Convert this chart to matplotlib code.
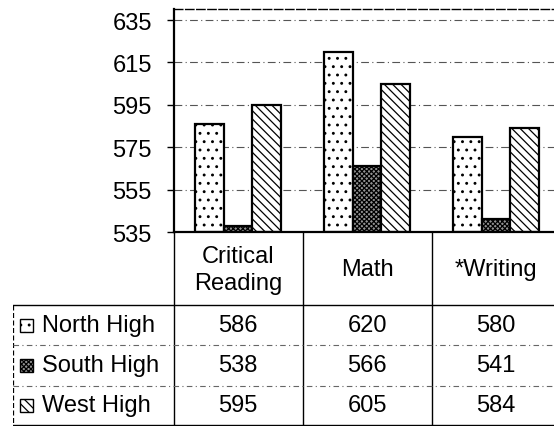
import matplotlib
matplotlib.use("Agg")
import matplotlib.pyplot as plt
from matplotlib.patches import Rectangle

plt.rcParams['font.family'] = ['Liberation Sans', 'DejaVu Sans']
plt.rcParams['hatch.color'] = 'black'
plt.rcParams['hatch.linewidth'] = 0.9

# SAT averages by school
subjects = ['Critical\nReading', 'Math', '*Writing']
schools = ['North High', 'South High', 'West High']
north = [586, 620, 580]
south = [538, 566, 541]
west = [595, 605, 584]
yticks = [535, 555, 575, 595, 615, 635]

series = [north, south, west]
faces = ['white', '#949494', 'white']
hatches = ['..', 'xxxxxxx', '\\\\\\\\']
fs = 17

W, H = 554, 427
fig = plt.figure(figsize=(W / 100, H / 100), dpi=100)

# pixel layout
cat_px = 129.0
ax_left, ax_top, ax_bot = 173.5, 10, 233
ax_right = ax_left + 3 * cat_px
ymax = 640.2


def fx(px):
    return px / W


def fy(py):
    return 1 - py / H


ax = fig.add_axes([fx(ax_left), fy(ax_bot), fx(ax_right - ax_left), fy(ax_top) - fy(ax_bot)])
ax.set_xlim(-0.5, 2.5)
ax.set_ylim(535, ymax)

bw = 0.222
for j, vals in enumerate(series):
    xs = [i + (j - 1) * bw for i in range(3)]
    hs = [v - 535 for v in vals]
    ax.bar(xs, hs, bw, bottom=535, facecolor=faces[j], edgecolor='black',
           linewidth=1.6, hatch=hatches[j], zorder=3)

for t in yticks[1:]:
    ax.axhline(t, color='#555555', lw=0.8, ls=(0, (7, 3, 1, 3)), zorder=1)

ax.set_yticks(yticks)
ax.set_yticklabels([str(t) for t in yticks], fontsize=fs)
ax.tick_params(axis='y', direction='out', length=5, width=1, pad=10.5)
ax.set_xticks([])
for s in ['right', 'bottom']:
    ax.spines[s].set_visible(False)
ax.spines['left'].set_linewidth(1.6)
ax.spines['top'].set_linestyle((0, (6, 2)))
ax.spines['top'].set_linewidth(1.0)
ax.axhline(535, color='black', lw=1.6, zorder=4, clip_on=False)

# data table under the chart, same category scale as the bars
tb_left = 13
tb = fig.add_axes([fx(tb_left), 0, fx(ax_right - tb_left), fy(ax_bot)])
x0 = -0.5 - (ax_left - tb_left) / cat_px
tb.set_xlim(x0, 2.5)
tb.set_ylim(H, ax_bot)
tb.axis('off')

row_edges = [233, 306, 346, 387, 426]

# header cells
for i, name in enumerate(subjects):
    tb.text(i, (row_edges[0] + row_edges[1]) / 2 + 1, name, ha='center', va='center',
            fontsize=fs, linespacing=1.3)

# vertical lines
for xb in [-0.5, 0.5, 1.5]:
    tb.plot([xb, xb], [row_edges[0], row_edges[-1]], color='black', lw=1.0)
tb.plot([x0 + 0.002, x0 + 0.002], [row_edges[1], row_edges[-1]], color='black', lw=0.9, ls=(0, (4, 2)))
tb.plot([x0, 2.5], [row_edges[1], row_edges[1]], color='black', lw=1.0)
tb.plot([x0, 2.5], [row_edges[-1], row_edges[-1]], color='black', lw=1.0)
for yb in row_edges[2:4]:
    tb.plot([x0, 2.5], [yb, yb], color='#666666', lw=0.8, ls=(0, (5, 3, 1, 3)))

# values and legend keys
key_w = 13 / cat_px
for r, (name, vals) in enumerate(zip(schools, series)):
    yc = (row_edges[r + 1] + row_edges[r + 2]) / 2
    for i, v in enumerate(vals):
        tb.text(i, yc, str(v), ha='center', va='center', fontsize=fs)
    kx = x0 + 7 / cat_px
    tb.add_patch(Rectangle((kx, yc - 6.5), key_w, 13, facecolor=faces[r], edgecolor='black',
                           lw=1.0, hatch=hatches[r]))
    tb.text(x0 + 29 / cat_px, yc, name, ha='left', va='center', fontsize=fs)

fig.savefig('out.png', dpi=100)
